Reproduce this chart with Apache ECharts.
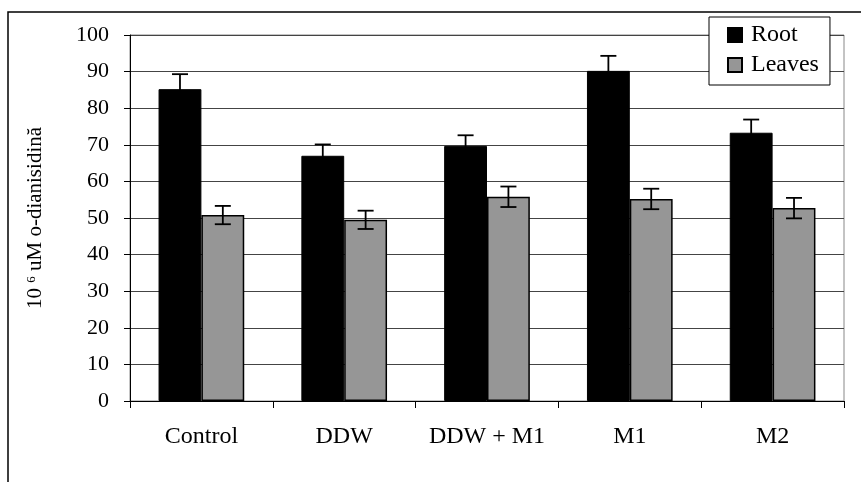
<!DOCTYPE html>
<html>
<head>
<meta charset="utf-8">
<script src="https://cdn.jsdelivr.net/npm/echarts@6/dist/echarts.min.js"></script>
<style>html,body{margin:0;padding:0;background:#fff;}#c{width:861px;height:482px;}</style>
</head>
<body>
<div id="c"></div>
<script>
const categories = ['Control', 'DDW', 'DDW + M1', 'M1', 'M2'];
const root = [85.2, 67.0, 69.7, 90.2, 73.3];
const rootErr = [4.1, 3.1, 2.9, 4.1, 3.6];
const leaves = [50.8, 49.5, 55.8, 55.2, 52.7];
const leavesErr = [2.5, 2.5, 2.8, 2.8, 2.8];
const yTicks = [0, 10, 20, 30, 40, 50, 60, 70, 80, 90, 100];

const FONT = 'Liberation Serif';
const chart = echarts.init(document.getElementById('c'));

function errRender(offsetFrac) {
  return function (params, api) {
    const i = api.value(0), v = api.value(1), e = api.value(2);
    const c = api.coord([i, v]);
    const band = api.size([1, 0])[0];
    const x = c[0] + offsetFrac * band;
    const top = api.coord([i, v + e])[1];
    const bot = api.coord([i, v - e])[1];
    const hw = 8;
    const st = { stroke: '#000', lineWidth: 1.8 };
    return {
      type: 'group',
      children: [
        { type: 'line', shape: { x1: x, y1: top, x2: x, y2: bot }, style: st },
        { type: 'line', shape: { x1: x - hw, y1: top, x2: x + hw, y2: top }, style: st },
        { type: 'line', shape: { x1: x - hw, y1: bot, x2: x + hw, y2: bot }, style: st }
      ]
    };
  };
}

chart.setOption({
  animation: false,
  backgroundColor: '#fff',
  textStyle: { fontFamily: FONT, color: '#000' },
  graphic: [{
    type: 'polyline',
    shape: { points: [[8, 482], [8, 12], [861, 12]] },
    style: { stroke: '#000', lineWidth: 1.5, fill: null },
    silent: true
  }],
  grid: {
    left: 130, right: 17, top: 35, bottom: 81,
    show: true, borderColor: '#888', borderWidth: 1, backgroundColor: 'transparent'
  },
  legend: {
    orient: 'vertical',
    left: 709, top: 17,
    data: ['Root', 'Leaves'],
    backgroundColor: '#fff',
    borderColor: '#000', borderWidth: 1,
    padding: [6, 11, 8, 18],
    itemWidth: 14, itemHeight: 14, itemGap: 6,
    icon: 'rect',
    textStyle: { fontFamily: FONT, fontSize: 24, color: '#000', padding: [0, 0, 0, 4] },
    z: 10
  },
  xAxis: {
    type: 'category',
    data: categories,
    axisLine: { lineStyle: { color: '#000', width: 1 } },
    axisTick: { show: true, length: 7, lineStyle: { color: '#000' } },
    axisLabel: { fontFamily: FONT, fontSize: 24, color: '#000', margin: 24, interval: 0 },
    splitLine: { show: false }
  },
  yAxis: {
    type: 'value',
    min: 0, max: 100, interval: 10,
    name: '{a|10 }{s|6}{a| uM o-dianisidină}',
    nameLocation: 'middle',
    nameGap: 84,
    nameRotate: 90,
    nameTextStyle: {
      rich: {
        a: { fontFamily: FONT, fontSize: 21, color: '#000' },
        s: { fontFamily: FONT, fontSize: 13, color: '#000', verticalAlign: 'top', lineHeight: 14, padding: [0, 0, 10, 0] }
      }
    },
    axisLine: { show: true, lineStyle: { color: '#000', width: 1 } },
    axisTick: { show: true, length: 6, lineStyle: { color: '#000' } },
    axisLabel: {
      fontFamily: FONT, fontSize: 22, color: '#000', margin: 21,
      formatter: function (v) { return yTicks.indexOf(v) >= 0 ? String(v) : ''; }
    },
    splitLine: { show: true, lineStyle: { color: '#444', width: 1 } }
  },
  series: [
    {
      name: 'Root', type: 'bar', data: root,
      barGap: '0%', barCategoryGap: '40%',
      itemStyle: { color: '#000', borderColor: '#000', borderWidth: 1 }
    },
    {
      name: 'Leaves', type: 'bar', data: leaves,
      barGap: '0%', barCategoryGap: '40%',
      itemStyle: { color: '#969696', borderColor: '#000', borderWidth: 1.5 }
    },
    {
      type: 'custom', name: 'RootErr',
      renderItem: errRender(-0.15),
      encode: { x: 0, y: 1 },
      data: root.map((v, i) => [i, v, rootErr[i]]),
      z: 5, silent: true
    },
    {
      type: 'custom', name: 'LeavesErr',
      renderItem: errRender(0.15),
      encode: { x: 0, y: 1 },
      data: leaves.map((v, i) => [i, v, leavesErr[i]]),
      z: 5, silent: true
    }
  ]
});
</script>
</body>
</html>
